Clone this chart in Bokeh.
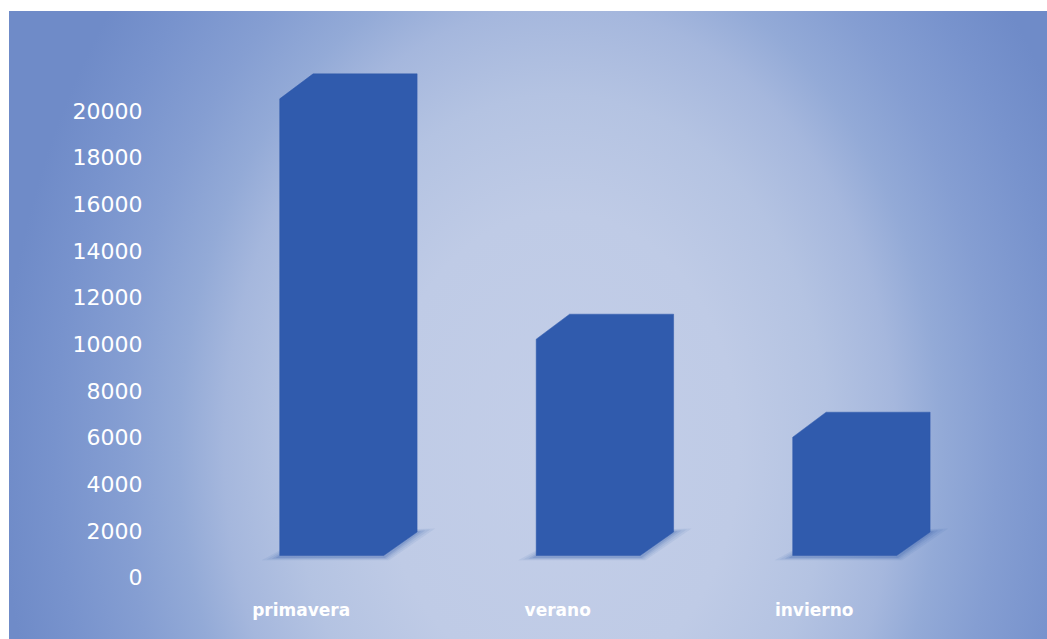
from bokeh.plotting import figure
from bokeh.models import Range1d, FixedTicker
from bokeh.embed import file_html
from bokeh.resources import INLINE

# ---- data ----
categories = ["primavera", "verano", "invierno"]
values = [20500, 10200, 6000]
y_ticks = [0, 2000, 4000, 6000, 8000, 10000, 12000, 14000, 16000, 18000, 20000]

# ---- layout constants (pixels on page) ----
FIG_LEFT, FIG_TOP = 9, 11
FIG_W, FIG_H = 1038, 628
BORDER_LEFT, BORDER_BOTTOM = 151, 49
FRAME_L = FIG_LEFT + BORDER_LEFT
FRAME_R = FIG_LEFT + FIG_W
FRAME_T = FIG_TOP
FRAME_B = FIG_TOP + FIG_H - BORDER_BOTTOM

CAT_PX0, CAT_STEP = 300.7, 256.5      # category centre pixels
ZERO_PX, PX_PER_UNIT = 576.7, 0.023335  # y scale

x_start = (FRAME_L - CAT_PX0) / CAT_STEP
x_end = (FRAME_R - CAT_PX0) / CAT_STEP
y_start = (ZERO_PX - FRAME_B) / PX_PER_UNIT
y_end = (ZERO_PX - FRAME_T) / PX_PER_UNIT

def px_x(d):
    return d / CAT_STEP

def px_y(d):
    return d / PX_PER_UNIT

OFF = px_x(-21.5)
W = px_x(104)
DX = px_x(33.4)
DY_TOP = px_y(25)
DY_BOT = px_y(23.5)
FLOOR = px_y(ZERO_PX - 555)

BAR_COLOR = "#305bad"

p = figure(width=FIG_W, height=FIG_H, output_backend="svg", toolbar_location=None,
           x_range=Range1d(x_start, x_end), y_range=Range1d(y_start, y_end),
           min_border_left=BORDER_LEFT, min_border_right=0, min_border_top=0,
           min_border_bottom=BORDER_BOTTOM)
p.margin = (FIG_TOP, 0, 0, FIG_LEFT)
p.background_fill_color = None
p.border_fill_color = None
p.outline_line_color = None
p.styles = {
    "background": "radial-gradient(ellipse 560px 740px at 551px 439px, "
                  "#c3cee8 0%, #bfcbe6 32%, #b4c3e2 48%, #a5b7dd 60%, "
                  "#93aad7 68%, #859ed2 78%, #7893cd 90%, #6f8bc8 100%)"
}
p.xgrid.grid_line_color = None
p.ygrid.grid_line_color = None

# shadows
for e, a in [(18, 0.08), (13, 0.09), (8, 0.12), (4, 0.16)]:
    xs, ys = [], []
    for i, v in enumerate(values):
        x0 = i + OFF
        x1 = x0 + W
        xs.append([x0 - px_x(e), x1 + px_x(e * 0.3), x1 + DX + px_x(e), x0 + DX])
        ys.append([FLOOR - px_y(2 + e * 0.15), FLOOR - px_y(2 + e * 0.15),
                   FLOOR + DY_BOT + px_y(e * 0.2), FLOOR + DY_BOT])
    p.patches(xs, ys, fill_color="#2a55a8", fill_alpha=a, line_color=None)

# bars (3D look: front + top + side in one colour)
bx, by = [], []
for i, v in enumerate(values):
    x0 = i + OFF
    x1 = x0 + W
    bx.append([x0, x0, x0 + DX, x1 + DX, x1 + DX, x1])
    by.append([FLOOR, v, v + DY_TOP, v + DY_TOP, FLOOR + DY_BOT, FLOOR])
p.patches(bx, by, fill_color=BAR_COLOR, line_color=BAR_COLOR, line_width=0.5)

# axes
p.yaxis.ticker = FixedTicker(ticks=y_ticks)
p.yaxis.minor_tick_line_color = None
p.yaxis.major_tick_line_color = None
p.yaxis.axis_line_color = None
p.yaxis.major_label_standoff = 12
p.yaxis.major_label_text_color = "white"
p.yaxis.major_label_text_font = "DejaVu Sans"
p.yaxis.major_label_text_font_size = "22px"

p.xaxis.ticker = FixedTicker(ticks=list(range(len(categories))))
p.xaxis.major_label_overrides = {i: c for i, c in enumerate(categories)}
p.xaxis.minor_tick_line_color = None
p.xaxis.major_tick_line_color = None
p.xaxis.axis_line_color = None
p.xaxis.major_label_standoff = 3
p.xaxis.major_label_text_color = "white"
p.xaxis.major_label_text_font = "DejaVu Sans"
p.xaxis.major_label_text_font_style = "bold"
p.xaxis.major_label_text_font_size = "17px"

open("out.html", "w").write(file_html(p, INLINE))
